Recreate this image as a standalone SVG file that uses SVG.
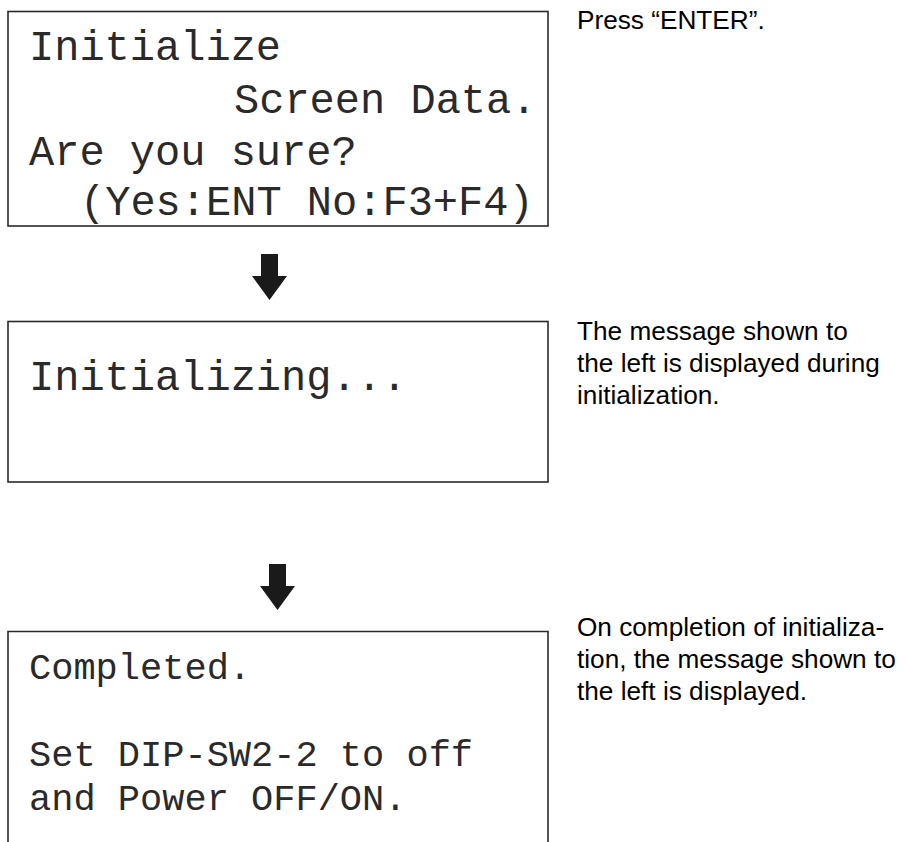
<svg xmlns="http://www.w3.org/2000/svg" width="905" height="842" viewBox="0 0 905 842">
<style>
.box{fill:#fff;stroke:#2a2a2a;stroke-width:1.6}
.lcd{font-family:"Liberation Mono","Courier New",monospace;fill:#2a2a2a}
.big{font-size:42px}
.small{font-size:37px}
.note{font-family:"Liberation Sans",Arial,Helvetica,sans-serif;font-size:26.2px;fill:#000}
.arrow{fill:#1a1a1a}
</style>
<rect width="905" height="842" fill="#fff"/>
<g id="screen1">
<rect class="box" x="8" y="11.5" width="540" height="214.5"/>
<text class="lcd big" x="29" y="60">Initialize</text>
<text class="lcd big" x="234" y="113">Screen Data.</text>
<text class="lcd big" x="29" y="165">Are you sure?</text>
<text class="lcd big" x="80" y="215">(Yes:ENT No:F3+F4)</text>
</g>
<g id="note1">
<text class="note" x="577" y="29">Press “ENTER”.</text>
</g>
<g id="screen2">
<rect class="box" x="8" y="321.5" width="540" height="160.5"/>
<text class="lcd big" x="29" y="390">Initializing...</text>
</g>
<g id="note2">
<text class="note" x="577" y="340">The message shown to</text>
<text class="note" x="577" y="372">the left is displayed during</text>
<text class="note" x="577" y="404">initialization.</text>
</g>
<g id="screen3">
<path class="box" d="M8,842 V631.5 H548 V842" fill="none"/>
<text class="lcd small" x="29" y="679">Completed.</text>
<text class="lcd small" x="29" y="766">Set DIP-SW2-2 to off</text>
<text class="lcd small" x="29" y="810">and Power OFF/ON.</text>
</g>
<g id="note3">
<text class="note" x="577" y="636">On completion of initializa-</text>
<text class="note" x="577" y="668">tion, the message shown to</text>
<text class="note" x="577" y="700">the left is displayed.</text>
</g>
<g id="connectors">
<path class="arrow" d="M261,254 H278 V276 H287 L269.5,300 L252,276 H261 Z"/>
<path class="arrow" d="M269,564 H286 V586 H295 L277.5,610 L260,586 H269 Z"/>
</g>
</svg>
